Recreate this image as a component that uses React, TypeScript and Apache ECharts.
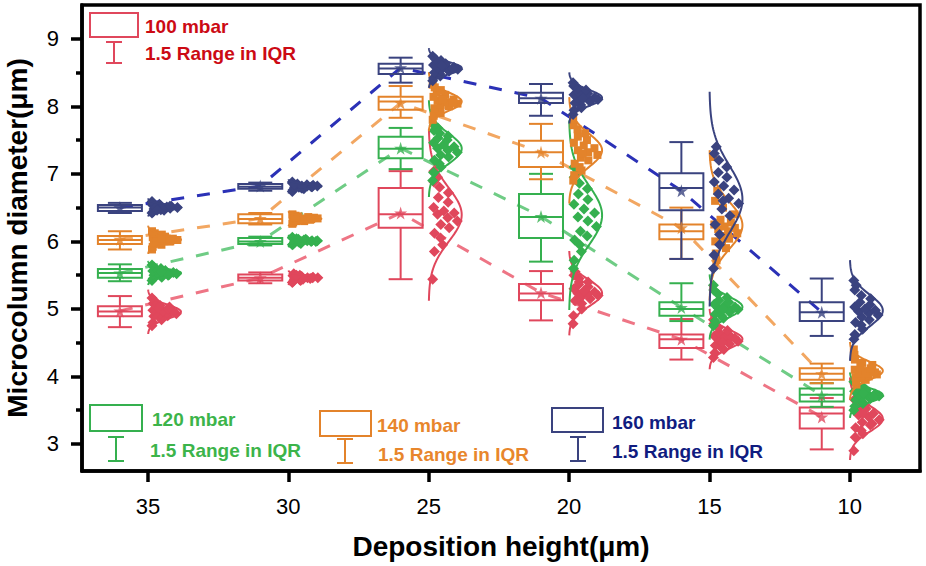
import React, { useEffect, useRef } from "react";
import * as echarts from "echarts";

// ---------------- data ----------------
const heights = [35, 30, 25, 20, 15, 10];
const groupNames = ["100 mbar", "120 mbar", "140 mbar", "160 mbar"];
const rangeLabel = "1.5 Range in IQR";
const xTickValues = [35, 30, 25, 20, 15, 10];
const yTickValues = [3, 4, 5, 6, 7, 8, 9];
const yMinorTickValues = [3.5, 4.5, 5.5, 6.5, 7.5, 8.5];
const xTitle = "Deposition height(μm)";
const yTitle = "Microcolumn diameter(μm)";

// box stats per height: [lower whisker, Q1, median, Q3, upper whisker]
const box100 = [
  [4.73, 4.89, 4.96, 5.04, 5.19],
  [5.38, 5.42, 5.46, 5.51, 5.54],
  [5.44, 6.2, 6.4, 6.79, 7.04],
  [4.83, 5.13, 5.23, 5.37, 5.56],
  [4.25, 4.42, 4.55, 4.62, 4.85],
  [2.92, 3.23, 3.45, 3.54, 3.68],
];
const box120 = [
  [5.41, 5.46, 5.53, 5.59, 5.66],
  [5.94, 5.96, 6.0, 6.05, 6.07],
  [7.07, 7.23, 7.37, 7.55, 7.68],
  [5.7, 6.05, 6.36, 6.7, 7.0],
  [4.82, 4.9, 5.0, 5.1, 5.38],
  [3.55, 3.63, 3.73, 3.82, 3.9],
];
const box140 = [
  [5.88, 5.96, 6.02, 6.08, 6.15],
  [6.25, 6.27, 6.33, 6.4, 6.42],
  [7.83, 7.95, 8.07, 8.14, 8.3],
  [6.92, 7.1, 7.32, 7.49, 7.74],
  [5.74, 6.03, 6.15, 6.25, 6.5],
  [3.9, 3.95, 4.04, 4.12, 4.19],
];
const box160 = [
  [6.42, 6.45, 6.5, 6.54, 6.57],
  [6.75, 6.78, 6.81, 6.85, 6.87],
  [8.35, 8.48, 8.56, 8.63, 8.72],
  [7.86, 8.05, 8.12, 8.2, 8.33],
  [5.74, 6.46, 6.79, 7.01, 7.47],
  [4.6, 4.82, 4.95, 5.1, 5.45],
];

const mean100 = [4.97, 5.46, 6.42, 5.24, 4.55, 3.4];
const mean120 = [5.53, 6.0, 7.38, 6.37, 5.02, 3.72];
const mean140 = [6.03, 6.34, 8.05, 7.32, 6.2, 4.04];
const mean160 = [6.5, 6.82, 8.57, 8.12, 6.75, 4.95];

// individual measurements per height
const pts100 = [
  [4.75, 4.8, 4.84, 4.87, 4.89, 4.9, 4.92, 4.93, 4.94, 4.95, 4.96, 4.97, 4.98, 5.0, 5.01, 5.03, 5.05, 5.08, 5.12, 5.16],
  [5.39, 5.41, 5.42, 5.43, 5.44, 5.45, 5.45, 5.46, 5.46, 5.47, 5.47, 5.48, 5.49, 5.5, 5.51, 5.52, 5.44, 5.48, 5.46, 5.5],
  [5.44, 5.85, 5.95, 6.05, 6.12, 6.2, 6.25, 6.3, 6.35, 6.4, 6.42, 6.45, 6.5, 6.58, 6.65, 6.72, 6.8, 6.88, 6.95, 7.04],
  [4.78, 4.9, 5.0, 5.08, 5.12, 5.15, 5.18, 5.2, 5.22, 5.23, 5.25, 5.27, 5.3, 5.33, 5.36, 5.4, 5.45, 5.5, 5.55, 5.4],
  [4.28, 4.35, 4.4, 4.43, 4.46, 4.48, 4.5, 4.52, 4.54, 4.55, 4.57, 4.59, 4.6, 4.62, 4.65, 4.68, 4.72, 4.78, 4.84, 4.5],
  [2.9, 3.1, 3.15, 3.2, 3.24, 3.28, 3.32, 3.36, 3.4, 3.43, 3.45, 3.48, 3.5, 3.52, 3.55, 3.58, 3.62, 3.66, 3.3, 3.45],
];
const pts120 = [
  [5.42, 5.45, 5.47, 5.49, 5.5, 5.51, 5.52, 5.52, 5.53, 5.53, 5.54, 5.55, 5.56, 5.57, 5.58, 5.6, 5.62, 5.65, 5.5, 5.55],
  [5.95, 5.96, 5.97, 5.98, 5.99, 6.0, 6.0, 6.01, 6.01, 6.02, 6.03, 6.04, 6.05, 6.06, 5.99, 6.0, 6.02, 5.98, 6.01, 6.03],
  [6.9, 7.02, 7.1, 7.15, 7.2, 7.25, 7.28, 7.32, 7.35, 7.38, 7.4, 7.43, 7.46, 7.5, 7.53, 7.56, 7.6, 7.64, 7.68, 7.72],
  [5.6, 5.72, 5.85, 5.95, 6.02, 6.08, 6.15, 6.22, 6.3, 6.36, 6.42, 6.48, 6.55, 6.62, 6.7, 6.78, 6.86, 6.95, 7.02, 7.1],
  [4.75, 4.82, 4.86, 4.9, 4.92, 4.95, 4.97, 4.99, 5.0, 5.01, 5.03, 5.05, 5.07, 5.1, 5.13, 5.17, 5.22, 5.28, 5.35, 5.0],
  [3.5, 3.56, 3.6, 3.63, 3.65, 3.67, 3.69, 3.71, 3.72, 3.73, 3.74, 3.76, 3.78, 3.8, 3.82, 3.85, 3.88, 3.92, 3.7, 3.75],
];
const pts140 = [
  [5.88, 5.92, 5.95, 5.97, 5.99, 6.0, 6.01, 6.02, 6.02, 6.03, 6.04, 6.05, 6.06, 6.07, 6.08, 6.1, 6.12, 6.15, 6.0, 6.04],
  [6.26, 6.28, 6.3, 6.31, 6.32, 6.33, 6.33, 6.34, 6.34, 6.35, 6.36, 6.37, 6.38, 6.4, 6.3, 6.35, 6.33, 6.36, 6.32, 6.38],
  [7.8, 7.86, 7.9, 7.94, 7.97, 8.0, 8.02, 8.04, 8.06, 8.08, 8.1, 8.12, 8.14, 8.17, 8.2, 8.24, 8.28, 8.32, 8.05, 8.1],
  [6.9, 6.98, 7.05, 7.1, 7.15, 7.2, 7.24, 7.28, 7.32, 7.35, 7.38, 7.42, 7.46, 7.5, 7.55, 7.6, 7.66, 7.72, 7.8, 7.3],
  [5.72, 5.82, 5.9, 5.96, 6.0, 6.04, 6.08, 6.12, 6.15, 6.18, 6.2, 6.22, 6.25, 6.28, 6.32, 6.4, 6.5, 6.6, 6.75, 7.25],
  [3.88, 3.92, 3.95, 3.97, 3.99, 4.0, 4.01, 4.03, 4.04, 4.05, 4.06, 4.08, 4.1, 4.12, 4.14, 4.17, 4.2, 4.25, 4.32, 4.4],
];
const pts160 = [
  [6.42, 6.44, 6.46, 6.47, 6.48, 6.49, 6.5, 6.5, 6.51, 6.51, 6.52, 6.53, 6.54, 6.55, 6.57, 6.59, 6.48, 6.5, 6.52, 6.46],
  [6.74, 6.76, 6.78, 6.79, 6.8, 6.81, 6.81, 6.82, 6.82, 6.83, 6.84, 6.85, 6.86, 6.88, 6.8, 6.83, 6.79, 6.84, 6.81, 6.82],
  [8.38, 8.42, 8.45, 8.48, 8.5, 8.52, 8.54, 8.55, 8.56, 8.57, 8.58, 8.6, 8.61, 8.63, 8.65, 8.68, 8.7, 8.74, 8.56, 8.6],
  [7.88, 7.94, 7.98, 8.02, 8.05, 8.07, 8.09, 8.1, 8.11, 8.12, 8.13, 8.15, 8.17, 8.19, 8.21, 8.24, 8.27, 8.3, 8.35, 8.12],
  [5.6, 5.8, 5.95, 6.1, 6.25, 6.38, 6.48, 6.56, 6.64, 6.7, 6.76, 6.82, 6.88, 6.95, 7.02, 7.1, 7.2, 7.3, 7.4, 6.6],
  [4.55, 4.62, 4.7, 4.76, 4.8, 4.84, 4.88, 4.91, 4.94, 4.96, 4.98, 5.0, 5.03, 5.06, 5.1, 5.15, 5.2, 5.28, 5.35, 5.42],
];

// ---------------- styling ----------------
const FONT = "'Liberation Sans', Arial, sans-serif";
const boxes = [box100, box120, box140, box160];
const means = [mean100, mean120, mean140, mean160];
const points = [pts100, pts120, pts140, pts160];
const lineColors = ["#e0475c", "#35b04f", "#e3832b", "#3a437f"];
const dashColors = ["#ee7585", "#6fcc85", "#f2a762", "#2b31b6"];
const textColors = ["#cc0a14", "#3cb44a", "#e8862c", "#101c80"];
const markerShapes = ["diamond", "diamond", "square", "diamond"];

const BOX_SHIFT = 1; // box drawn left of the tick (axis inverted)
const BOX_W = 44;
const CAP_W = 24;
const CURVE_W = 33;
const STAR =
  "path://M50,0 L61,35 L98,35 L68,57 L79,91 L50,70 L21,91 L32,57 L2,35 L39,35 Z";

const avg = (a: number[]) => a.reduce((s, v) => s + v, 0) / a.length;
const std = (a: number[]) => {
  const m = avg(a);
  return Math.sqrt(a.reduce((s, v) => s + (v - m) * (v - m), 0) / (a.length - 1));
};

function boxSeries(g: number) {
  const col = lineColors[g];
  return {
    type: "custom",
    z: 3,
    data: heights.map((h, i) => [h, ...boxes[g][i]]),
    renderItem: (_p: any, api: any) => {
      const h = api.value(0);
      const lo = api.value(1), q1 = api.value(2), md = api.value(3), q3 = api.value(4), hi = api.value(5);
      const cx = api.coord([h + BOX_SHIFT, md])[0];
      const y = (v: number) => api.coord([h, v])[1];
      const st = { stroke: col, lineWidth: 2, fill: "none" };
      const ln = (x1: number, y1: number, x2: number, y2: number) => ({
        type: "line",
        shape: { x1, y1, x2, y2 },
        style: st,
      });
      return {
        type: "group",
        children: [
          { type: "rect", shape: { x: cx - BOX_W / 2, y: y(q3), width: BOX_W, height: y(q1) - y(q3) }, style: st },
          ln(cx - BOX_W / 2, y(md), cx + BOX_W / 2, y(md)),
          ln(cx, y(q3), cx, y(hi)),
          ln(cx, y(q1), cx, y(lo)),
          ln(cx - CAP_W / 2, y(hi), cx + CAP_W / 2, y(hi)),
          ln(cx - CAP_W / 2, y(lo), cx + CAP_W / 2, y(lo)),
        ],
      };
    },
  };
}

function pointSeries(g: number) {
  const col = lineColors[g];
  return {
    type: "custom",
    z: 4,
    data: heights.map((h, i) => [h, means[g][i]]),
    renderItem: (params: any, api: any) => {
      const i = params.dataIndex;
      const h = api.value(0);
      const vals = points[g][i];
      const m = avg(vals);
      const sd = std(vals);
      const base = api.coord([h, m])[0];
      const children: any[] = [];
      vals.forEach((v, j) => {
        const frac = ((j + 1) * 0.6180339887) % 1;
        const z = (v - m) / sd;
        const w = CURVE_W * Math.exp(-(z * z) / 2);
        const x = base + 4 + frac * Math.max(0, w - 6);
        const yy = api.coord([h, v])[1];
        if (markerShapes[g] === "square") {
          children.push({
            type: "rect",
            shape: { x: x - 4, y: yy - 4, width: 8, height: 8 },
            style: { fill: col },
          });
        } else {
          children.push({
            type: "polygon",
            shape: { points: [[x, yy - 5.5], [x + 5.5, yy], [x, yy + 5.5], [x - 5.5, yy]] },
            style: { fill: col },
          });
        }
      });
      const curve: number[][] = [];
      for (let k = 0; k <= 80; k++) {
        const z = -3.2 + (6.4 * k) / 80;
        const yy = api.coord([h, m + z * sd])[1];
        curve.push([base + CURVE_W * Math.exp(-(z * z) / 2), yy]);
      }
      children.push({
        type: "polyline",
        shape: { points: curve },
        style: { stroke: col, lineWidth: 2, fill: "none" },
      });
      return { type: "group", children };
    },
  };
}

function dashSeries(g: number) {
  return {
    type: "line",
    z: 2,
    symbol: "none",
    data: heights.map((h, i) => [h + BOX_SHIFT, means[g][i]]),
    lineStyle: { color: dashColors[g], width: 3, type: [13, 13] },
  };
}

function meanSeries(g: number) {
  return {
    type: "scatter",
    z: 5,
    symbol: STAR,
    symbolSize: 13,
    data: heights.map((h, i) => [h + BOX_SHIFT, means[g][i]]),
    itemStyle: { color: lineColors[g] },
  };
}

function legendGroup(
  g: number,
  r: { x: number; y: number; w: number; h: number },
  wx: number,
  wy1: number,
  wy2: number,
  t1: [number, number],
  t2: [number, number]
) {
  const col = lineColors[g];
  const st = { stroke: col, lineWidth: 2, fill: "none" };
  const tstyle = (text: string) => ({
    text,
    fill: textColors[g],
    font: `bold 19px ${FONT}`,
    verticalAlign: "middle",
    align: "left",
  });
  return [
    { type: "rect", shape: { x: r.x, y: r.y, width: r.w, height: r.h }, style: st },
    { type: "line", shape: { x1: wx, y1: wy1, x2: wx, y2: wy2 }, style: st },
    { type: "line", shape: { x1: wx - 8, y1: wy1, x2: wx + 8, y2: wy1 }, style: st },
    { type: "line", shape: { x1: wx - 8, y1: wy2, x2: wx + 8, y2: wy2 }, style: st },
    { type: "text", x: t1[0], y: t1[1], style: tstyle(groupNames[g]) },
    { type: "text", x: t2[0], y: t2[1], style: tstyle(rangeLabel) },
  ];
}

export default function App() {
  const ref = useRef<HTMLDivElement>(null);
  useEffect(() => {
    if (!ref.current) return;
    const chart = echarts.init(ref.current, null, { renderer: "svg" });
    const series: any[] = [];
    for (let g = 0; g < 4; g++) series.push(dashSeries(g));
    for (let g = 0; g < 4; g++) series.push(boxSeries(g));
    for (let g = 0; g < 4; g++) series.push(pointSeries(g));
    for (let g = 0; g < 4; g++) series.push(meanSeries(g));

    const option: any = {
      animation: false,
      backgroundColor: "#ffffff",
      grid: {
        left: 82,
        right: 6,
        top: 5,
        bottom: 95,
        containLabel: false,
        outerBoundsMode: "none",
        show: true,
        borderColor: "#000",
        borderWidth: 3.5,
        backgroundColor: "transparent",
      },
      xAxis: {
        type: "value",
        inverse: true,
        min: 7.5,
        max: 37.35,
        name: xTitle,
        nameLocation: "middle",
        nameGap: 61,
        nameTextStyle: { fontFamily: FONT, fontWeight: "bold", fontSize: 28, color: "#000" },
        axisLine: { show: true, lineStyle: { color: "#000", width: 3.5 } },
        axisTick: { show: true, length: 11, lineStyle: { color: "#000", width: 3.5 }, customValues: xTickValues },
        axisLabel: { fontFamily: FONT, fontSize: 22, color: "#000", margin: 24, customValues: xTickValues },
        splitLine: { show: false },
      },
      yAxis: [
        {
          type: "value",
          min: 2.6,
          max: 9.5,
          name: yTitle,
          nameLocation: "middle",
          nameGap: 51,
          nameRotate: 90,
          nameTextStyle: { fontFamily: FONT, fontWeight: "bold", fontSize: 28, color: "#000" },
          axisLine: { show: true, lineStyle: { color: "#000", width: 3.5 } },
          axisTick: { show: true, length: 11, lineStyle: { color: "#000", width: 3.5 }, customValues: yTickValues },
          axisLabel: { fontFamily: FONT, fontSize: 22, color: "#000", margin: 23, customValues: yTickValues },
          splitLine: { show: false },
        },
        {
          type: "value",
          min: 2.6,
          max: 9.5,
          position: "left",
          axisLine: { show: false },
          axisTick: { show: true, length: 6, lineStyle: { color: "#000", width: 3.5 }, customValues: yMinorTickValues },
          axisLabel: { show: false },
          splitLine: { show: false },
        },
      ],
      series,
      graphic: [
        ...legendGroup(0, { x: 90, y: 13, w: 48, h: 24 }, 114, 42, 63, [145, 26], [145, 53]),
        ...legendGroup(1, { x: 90, y: 405, w: 52, h: 26 }, 116, 437, 461, [152, 419], [150, 450]),
        ...legendGroup(2, { x: 320, y: 411, w: 51, h: 25 }, 345, 439, 463, [377, 425], [378, 454]),
        ...legendGroup(3, { x: 552, y: 408, w: 51, h: 24 }, 578, 437, 461, [612, 422], [612, 451]),
      ],
    };
    chart.setOption(option);
    return () => chart.dispose();
  }, []);
  return (
    <div
      ref={ref}
      style={{ position: "fixed", left: 0, top: 0, width: 926, height: 566, background: "#fff" }}
    />
  );
}
